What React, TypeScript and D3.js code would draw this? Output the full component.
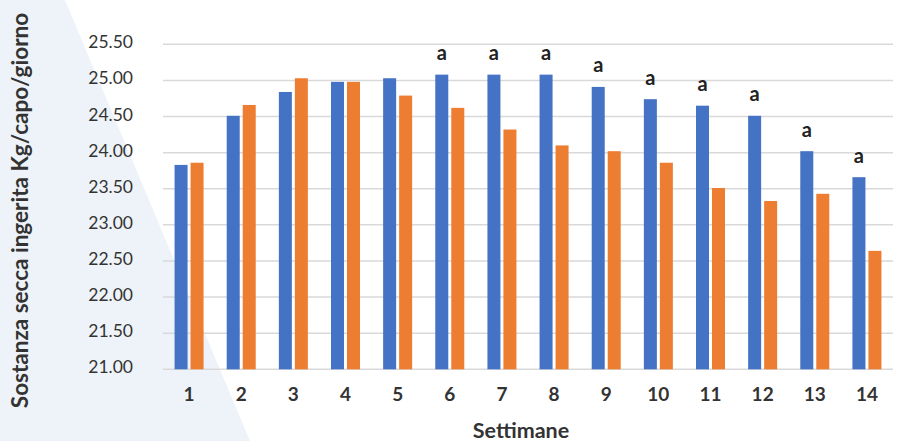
import React from "react";
import * as d3 from "d3";

const weeks = ["1","2","3","4","5","6","7","8","9","10","11","12","13","14"];
const seriesA = [23.83,24.51,24.84,24.98,25.03,25.08,25.08,25.08,24.91,24.74,24.65,24.51,24.02,23.66];
const seriesB = [23.86,24.66,25.03,24.98,24.79,24.62,24.32,24.10,24.02,23.86,23.51,23.33,23.43,22.64];
const sigLabels = ["","","","","","a","a","a","a","a","a","a","a","a"];
const yTicks = [21,21.5,22,22.5,23,23.5,24,24.5,25,25.5];

export default function App() {
  const W = 897, H = 441;
  const left = 163, right = 893, top = 44.3, bottom = 369.3;
  const x = d3.scaleBand<string>().domain(weeks).range([left, right]);
  const y = d3.scaleLinear().domain([21, 25.5]).range([bottom, top]);
  const bw = 13, gap = 3;
  const font = "Lato, 'Open Sans', sans-serif";
  return (
    <svg width={W} height={H} style={{ position: "absolute", left: 0, top: 0 }} fontFamily={font}>
      <rect width={W} height={H} fill="#fff" />
      <polygon points={`0,0 65,0 250,${H} 0,${H}`} fill="#EEF3F9" />
      {yTicks.map((t) => (
        <g key={t}>
          <line x1={left} x2={right} y1={y(t)} y2={y(t)} stroke="#d9d9d9" strokeWidth={1.5} />
          <text x={133} y={y(t) + 4} textAnchor="end" fontSize={17.5} fill="#333">{t.toFixed(2)}</text>
        </g>
      ))}
      {weeks.map((w, i) => {
        const c = (x(w) as number) + x.bandwidth() / 2;
        const xa = c - gap / 2 - bw;
        const xb = c + gap / 2;
        return (
          <g key={w}>
            <rect x={xa} y={y(seriesA[i])} width={bw} height={bottom - y(seriesA[i])} fill="#4472C4" />
            <rect x={xb} y={y(seriesB[i])} width={bw} height={bottom - y(seriesB[i])} fill="#ED7D31" />
            {sigLabels[i] && (
              <text x={xa + bw / 2} y={y(seriesA[i]) - 14.5} textAnchor="middle" fontSize={20} fontWeight="bold" fill="#222">{sigLabels[i]}</text>
            )}
            <text x={c} y={400.7} textAnchor="middle" fontSize={19} fontWeight="bold" fill="#333">{w}</text>
          </g>
        );
      })}
      <text x={521} y={438} textAnchor="middle" fontSize={21.5} fontWeight="bold" fill="#333">Settimane</text>
      <text transform={`translate(28,210.5) rotate(-90)`} textAnchor="middle" fontSize={22.5} fontWeight="bold" fill="#333">Sostanza secca ingerita Kg/capo/giorno</text>
    </svg>
  );
}
